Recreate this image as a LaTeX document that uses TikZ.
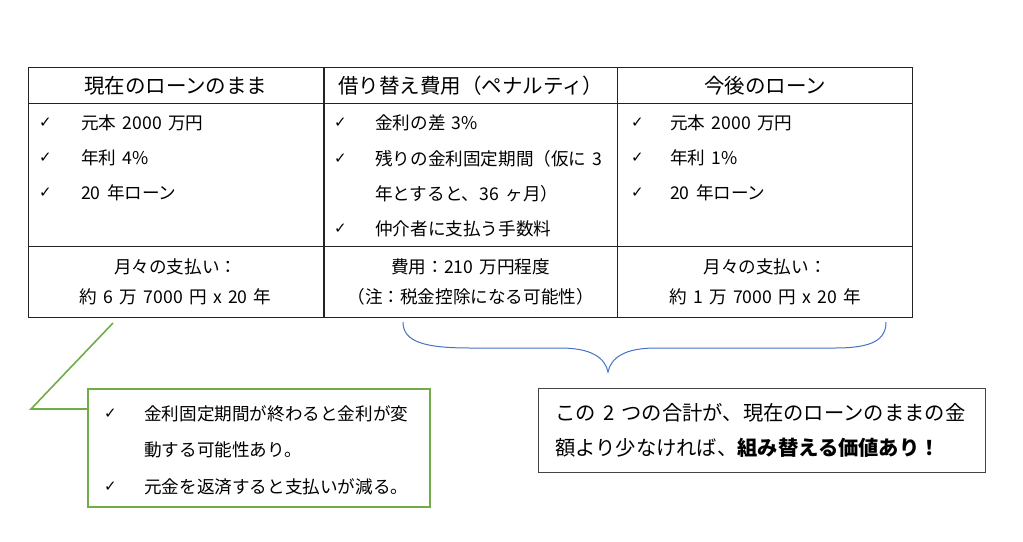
\documentclass[tikz,border=0pt]{standalone}
\usepackage{fontspec}
\setmainfont[WordSpace=1.6]{Noto Sans CJK JP}
\newfontfamily\chkfont{DejaVu Sans}
\definecolor{notegreen}{RGB}{112,173,71}
\definecolor{braceblue}{RGB}{68,114,196}
\definecolor{rulegray}{RGB}{35,35,35}

\begin{document}
\begin{tikzpicture}[x=1pt, y=-1pt, every node/.style={font=\fontsize{17.6}{30}\selectfont, inner sep=0pt},
    cell/.style={draw=rulegray, line width=1pt, anchor=north west},
    head/.style={font=\fontsize{20.5}{24}\selectfont},
    item/.style={anchor=west},
    chkmark/.style={anchor=west, font=\fontsize{15}{15}\chkfont}]
  \useasboundingbox (0,0) rectangle (1023,541);
  % table
  \node[cell, head, minimum width=294.5pt, minimum height=36pt] (head1) at (28,67) {現在のローンのまま};
  \node[cell, head, minimum width=293.5pt, minimum height=36pt] (head2) at (323.5,67) {借り替え費用（ペナルティ）};
  \node[cell, head, minimum width=295pt, minimum height=36pt] (head3) at (617,67) {今後のローン};
  \node[cell, minimum width=294.5pt, minimum height=142.5pt] (body1) at (28,103) {};
  \node[cell, minimum width=293.5pt, minimum height=142.5pt] (body2) at (323.5,103) {};
  \node[cell, minimum width=295pt, minimum height=142.5pt] (body3) at (617,103) {};
  \node[cell, align=center, minimum width=294.5pt, minimum height=71.5pt] (foot1) at (28,245.5) {月々の支払い：\\約 6 万 7000 円 x 20 年};
  \node[cell, align=center, minimum width=293.5pt, minimum height=71.5pt] (foot2) at (323.5,245.5) {費用：210 万円程度\\（注：税金控除になる可能性）};
  \node[cell, align=center, minimum width=295pt, minimum height=71.5pt] (foot3) at (617,245.5) {月々の支払い：\\約 1 万 7000 円 x 20 年};
  % check lists
  \foreach \t [count=\i] in {元本 2000 万円, 年利 4\%, 20 年ローン} {
    \node[chkmark] (ca\i) at (39,{123+35*(\i-1)}) {✓};
    \node[item] (la\i) at (81,{123+35*(\i-1)}) {\t};
  }
  \foreach \t [count=\i] in {元本 2000 万円, 年利 1\%, 20 年ローン} {
    \node[chkmark] (cc\i) at (631,{123+35*(\i-1)}) {✓};
    \node[item] (lc\i) at (670,{123+35*(\i-1)}) {\t};
  }
  \node[chkmark] (cb1) at (334,123) {✓};
  \node[item] (lb1) at (375,123) {金利の差 3\%};
  \node[chkmark] (cb2) at (334,159) {✓};
  \node[item] (lb2) at (375,159) {残りの金利固定期間（仮に 3};
  \node[item] (lb2x) at (375,194) {年とすると、36 ヶ月）};
  \node[chkmark] (cb3) at (334,229) {✓};
  \node[item] (lb3) at (375,229) {仲介者に支払う手数料};
  % callout
  \node[draw=notegreen, line width=1.6pt, anchor=north west, minimum width=342pt, minimum height=118pt] (note) at (87,388) {};
  \node[chkmark] (cn1) at (104,414) {✓};
  \node[item] (ln1) at (144,414) {金利固定期間が終わると金利が変};
  \node[item] (ln1x) at (144,450) {動する可能性あり。};
  \node[chkmark] (cn2) at (104,487) {✓};
  \node[item] (ln2) at (144,487) {元金を返済すると支払いが減る。};
  \coordinate (noteTip) at (113,323);
  \coordinate (noteBend) at (31,409);
  \draw[notegreen, line width=1.6pt] (noteTip) -- (noteBend) -- (noteBend -| note.west);
  % brace
  \coordinate (braceL) at (403,322);
  \coordinate (braceTip) at (608,372);
  \coordinate (braceR) at (886,322);
  \draw[braceblue, line width=1pt] (braceL) .. controls (403,342) and (425,348) .. (470,348) -- (560,348)
    .. controls (592,348) and (605,358) .. (braceTip) .. controls (611,358) and (624,348) .. (656,348)
    -- (835,348) .. controls (872,348) and (886,340) .. (braceR);
  % conclusion
  \node[draw=rulegray!85, line width=1pt, anchor=north west, minimum width=447pt, minimum height=84pt] (sum) at (538,388) {};
  \node[item, align=left, font=\fontsize{20.3}{35}\selectfont] (sumtext) at (555,430.5) {この 2 つの合計が、現在のローンのままの金\\額より少なければ、\textbf{組み替える価値あり！}};
\end{tikzpicture}
\end{document}
